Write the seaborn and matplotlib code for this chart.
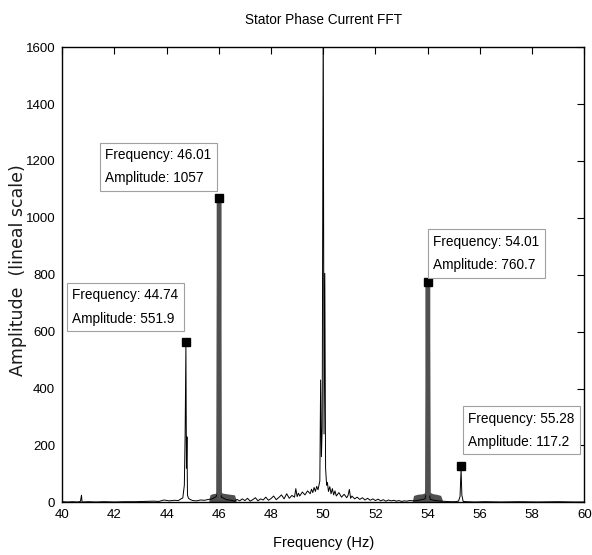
import matplotlib
matplotlib.use("Agg")
import matplotlib.pyplot as plt
import seaborn as sns
import pandas as pd

# ---------------- data ----------------
freq = [40.0, 40.2, 40.4, 40.6, 40.7, 40.74, 40.76, 40.8, 41.0, 41.3, 41.6, 42.0, 42.4, 42.8,
        43.2, 43.5, 43.7, 43.9, 44.1, 44.3, 44.45, 44.55, 44.62, 44.68, 44.71, 44.74, 44.76,
        44.78, 44.8, 44.84, 44.9, 45.0, 45.15, 45.3, 45.45, 45.6, 45.75, 45.9, 46.01, 46.1,
        46.3, 46.5, 46.6, 46.7, 46.8, 46.9, 47.0, 47.1, 47.2, 47.3, 47.4, 47.5, 47.6, 47.7,
        47.8, 47.9, 48.0, 48.1, 48.2, 48.3, 48.4, 48.5, 48.6, 48.7, 48.8, 48.9, 48.95, 49.0,
        49.05, 49.1, 49.2, 49.3, 49.4, 49.5, 49.55, 49.6, 49.65, 49.7, 49.75, 49.8, 49.84,
        49.87, 49.9, 49.93, 49.96, 50.0, 50.03, 50.06, 50.09, 50.13, 50.16, 50.2, 50.25, 50.3,
        50.35, 50.4, 50.45, 50.5, 50.6, 50.7, 50.8, 50.9, 50.95, 51.0, 51.05, 51.1, 51.2,
        51.3, 51.4, 51.5, 51.6, 51.7, 51.8, 51.9, 52.0, 52.1, 52.2, 52.3, 52.4, 52.5, 52.6,
        52.7, 52.8, 52.9, 53.0, 53.1, 53.2, 53.3, 53.5, 53.7, 53.9, 54.01, 54.1, 54.3, 54.5,
        54.7, 54.9, 55.05, 55.18, 55.24, 55.28, 55.31, 55.36, 55.5, 55.8, 56.2, 56.8, 57.5,
        58.2, 59.0, 59.6, 60.0]
amp = [2, 1, 2, 1, 3, 25, 3, 1, 2, 1, 2, 1, 2, 2,
       3, 4, 3, 8, 5, 7, 6, 12, 15, 60, 240, 551.9, 120,
       230, 25, 14, 10, 6, 5, 8, 7, 10, 12, 20, 60, 18,
       9, 7, 4, 10, 5, 12, 6, 14, 4, 9, 16, 5, 12, 8,
       18, 7, 13, 22, 9, 17, 26, 12, 30, 14, 24, 18, 48, 20,
       32, 22, 36, 26, 40, 30, 46, 34, 52, 38, 56, 44, 62,
       75, 430, 160, 260, 1750, 240, 805, 120, 60, 70, 38, 55, 30,
       48, 26, 40, 22, 34, 18, 28, 16, 24, 45, 14, 22, 12,
       18, 10, 16, 8, 14, 7, 12, 6, 11, 5, 9, 4, 8, 5,
       7, 4, 6, 3, 5, 4, 6, 5, 8, 12, 60, 10, 6, 4,
       3, 2, 2, 4, 20, 117.2, 25, 3, 2, 1, 2, 1, 2,
       1, 2, 1, 1]

# thick (dense) peaks
peak46_x = [45.985, 46.01, 46.035]
peak46_y = [30, 1057, 30]
peak54_x = [53.985, 54.01, 54.035]
peak54_y = [30, 760.7, 30]

# dense bases around 46 and 54 Hz
band46_x = [45.62, 45.66, 45.75, 45.9, 45.97, 46.01, 46.05, 46.15, 46.3, 46.45, 46.6, 46.66]
band46_y = [8, 26, 30, 32, 38, 45, 38, 32, 30, 28, 26, 8]
band54_x = [53.42, 53.46, 53.6, 53.8, 53.95, 54.01, 54.07, 54.2, 54.35, 54.5, 54.56]
band54_y = [8, 24, 28, 30, 36, 42, 36, 30, 28, 24, 8]

# data tips
tip_freq = [44.74, 46.01, 54.01, 55.28]
tip_amp = [551.9, 1057, 760.7, 117.2]
tip_labels = ["Frequency: 44.74\nAmplitude: 551.9",
              "Frequency: 46.01\nAmplitude: 1057",
              "Frequency: 54.01\nAmplitude: 760.7",
              "Frequency: 55.28\nAmplitude: 117.2"]
# text anchor (left edge, vertical centre) in data units
tip_box_x = [40.38, 41.65, 54.21, 55.55]
tip_box_y = [686, 1180, 875, 253]

x_ticks = list(range(40, 61, 2))
y_ticks = list(range(0, 1601, 200))

# ---------------- style ----------------
sns.set_theme(style="white")
plt.rcParams["font.family"] = ["Liberation Sans", "DejaVu Sans"]
plt.rcParams["text.color"] = "black"
plt.rcParams["axes.labelcolor"] = "black"

fig = plt.figure(figsize=(5.92, 5.55), dpi=100)
ax = fig.add_axes([0.105, 0.095, 0.882, 0.82])

spec = pd.DataFrame({"Frequency": freq, "Amplitude": amp})
ax.fill_between(band46_x, band46_y, -12, color="#505050", lw=0, zorder=2)
ax.fill_between(band54_x, band54_y, -12, color="#505050", lw=0, zorder=2)
sns.lineplot(data=spec, x="Frequency", y="Amplitude", ax=ax, color="black",
             lw=0.7, estimator=None, sort=False, zorder=3)
sns.lineplot(x=peak46_x, y=peak46_y, ax=ax, color="#505050", lw=3.2,
             estimator=None, sort=False, zorder=4)
sns.lineplot(x=peak54_x, y=peak54_y, ax=ax, color="#505050", lw=3.2,
             estimator=None, sort=False, zorder=4)
ax.plot(tip_freq, [a + 12 for a in tip_amp], "s", color="black", ms=5.5, zorder=6)

for bx, by, lab in zip(tip_box_x, tip_box_y, tip_labels):
    ax.text(bx, by, lab, ha="left", va="center", fontsize=9.8, color="black",
            linespacing=1.85, zorder=7,
            bbox=dict(boxstyle="square,pad=0.4", fc="white", ec="#a0a0a0", lw=0.8))

ax.set_xlim(40, 60)
ax.set_ylim(0, 1600)
ax.set_xticks(x_ticks)
ax.set_yticks(y_ticks)
ax.tick_params(direction="in", length=5, width=0.8, top=True, right=True,
               labelsize=9.5, colors="black", pad=5)
for s in ax.spines.values():
    s.set_color("black")
    s.set_linewidth(1.0)
ax.set_title("Stator Phase Current FFT", fontsize=9.8, pad=17, color="black")
ax.set_xlabel("Frequency (Hz)", fontsize=10.5, labelpad=11, color="black")
ax.set_ylabel("Amplitude  (lineal scale)", fontsize=12.5, color="#1a1a1a",
              family=["DejaVu Sans"])
ax.yaxis.set_label_coords(-0.068, 0.51)

fig.savefig("out.png", dpi=100)
